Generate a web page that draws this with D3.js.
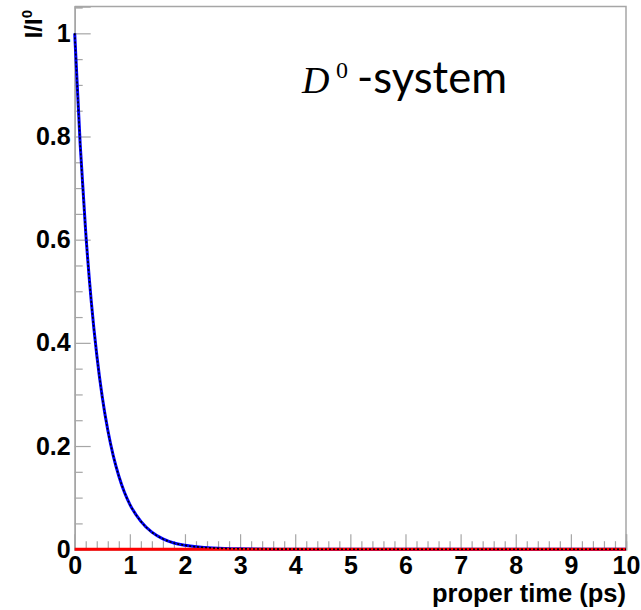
<!DOCTYPE html>
<html>
<head>
<meta charset="utf-8">
<script src="https://cdn.jsdelivr.net/npm/d3@7"></script>
<style>
  html, body { margin: 0; padding: 0; background: #fff; }
  svg { display: block; }
</style>
</head>
<body>
<svg id="chart" width="641" height="610"></svg>
<script>
// ---- data ----
const times     = [0, 0.1, 0.2, 0.3, 0.4, 0.5, 0.6, 0.7, 0.8, 0.9, 1.0, 1.2, 1.4, 1.6, 1.8, 2.0, 2.5, 3.0, 4.0, 6.0, 10.0];
const unmixed   = [1.0, 0.784, 0.614, 0.481, 0.377, 0.295, 0.231, 0.181, 0.142, 0.111, 0.087, 0.054, 0.033, 0.020, 0.012, 0.0076, 0.0023, 0.0007, 0.00006, 0, 0];
const total     = [1.0, 0.784, 0.614, 0.481, 0.377, 0.295, 0.231, 0.181, 0.142, 0.111, 0.087, 0.054, 0.033, 0.020, 0.012, 0.0076, 0.0023, 0.0007, 0.00006, 0, 0];
const mixed     = [0, 0, 0, 0, 0, 0, 0, 0, 0, 0, 0, 0, 0, 0, 0, 0, 0, 0, 0, 0, 0];
const xTicks    = [0, 1, 2, 3, 4, 5, 6, 7, 8, 9, 10];
const yTicks    = [0, 0.2, 0.4, 0.6, 0.8, 1];
const xTitle    = "proper time (ps)";
const title     = { main: "D", sup: "0", rest: "-system" };

// ---- layout ----
const svg = d3.select("#chart");
const L = 74.7, R = 626, T = 6.5, B = 549.2;
const x = d3.scaleLinear().domain([0, 10]).range([L, R]);
const y = d3.scaleLinear().domain([0, 1.052]).range([B, T]);
const grey = "#a6a6a6";
const fontFam = "'Liberation Sans', Arial, Helvetica, sans-serif";

// frame (top and right)
svg.append("path")
  .attr("d", `M${L},${T}H${R}V${B}`)
  .attr("fill", "none").attr("stroke", grey).attr("stroke-width", 1.5);

// minor ticks
const yMinor = d3.range(0, 1.051, 0.05).filter(v => Math.abs(v*5 - Math.round(v*5)) > 1e-6);
const xMinor = d3.range(0, 10.001, 0.2).filter(v => Math.abs(v - Math.round(v)) > 1e-6);

const yMinorAxis = svg.append("g").attr("transform", `translate(${L},0)`)
  .call(d3.axisLeft(y).tickValues(yMinor).tickSize(-8).tickFormat(""));
const xMinorAxis = svg.append("g").attr("transform", `translate(0,${B})`)
  .call(d3.axisBottom(x).tickValues(xMinor).tickSize(-8).tickFormat(""));

// major axes
const yAxis = svg.append("g").attr("transform", `translate(${L},0)`)
  .call(d3.axisLeft(y).tickValues(yTicks).tickSize(-16).tickPadding(4)
        .tickFormat(d => d3.format("~g")(d)));
const xAxis = svg.append("g").attr("transform", `translate(0,${B})`)
  .call(d3.axisBottom(x).tickValues(xTicks).tickSize(-15).tickPadding(7)
        .tickFormat(d => d3.format("d")(d)));

[yMinorAxis, xMinorAxis, yAxis, xAxis].forEach(g => {
  g.selectAll(".domain").attr("stroke", grey).attr("stroke-width", 1.5);
  g.selectAll(".tick line").attr("stroke", grey).attr("stroke-width", 1.2);
  g.selectAll("text").attr("font-family", fontFam).attr("font-weight", "bold")
    .attr("font-size", 25).attr("fill", "#000");
});

// curves
const pts = arr => times.map((t, i) => [t, arr[i]]);
const line = d3.line().x(d => x(d[0])).y(d => y(d[1])).curve(d3.curveMonotoneX);

svg.append("path").datum(pts(unmixed)).attr("d", line)
  .attr("fill", "none").attr("stroke", "#0000ff").attr("stroke-width", 3);
svg.append("path").datum(pts(mixed)).attr("d", line)
  .attr("fill", "none").attr("stroke", "#ff0000").attr("stroke-width", 3);
svg.append("path").datum(pts(total)).attr("d", line)
  .attr("fill", "none").attr("stroke", "#000").attr("stroke-width", 1.6)
  .attr("stroke-dasharray", "2,2");

// axis titles
svg.append("text")
  .attr("x", R).attr("y", 602)
  .attr("text-anchor", "end")
  .attr("font-family", fontFam).attr("font-weight", "bold").attr("font-size", 25.5)
  .text(xTitle);

const yt = svg.append("text")
  .attr("transform", "translate(42,10) rotate(-90)")
  .attr("text-anchor", "end")
  .attr("font-family", fontFam).attr("font-weight", "bold").attr("font-size", 24);
yt.append("tspan").text("I/I");
yt.append("tspan").attr("font-size", 15).attr("dy", -10).text("0");

// title
const serif = "'Liberation Serif', 'DejaVu Serif', serif";
svg.append("text").attr("x", 302).attr("y", 93)
  .attr("font-family", serif).attr("font-style", "italic").attr("font-size", 38)
  .text(title.main);
svg.append("text").attr("x", 336).attr("y", 78)
  .attr("font-family", serif).attr("font-size", 24)
  .text(title.sup);
svg.append("text").attr("x", 357).attr("y", 93)
  .attr("font-family", "Lato, 'Open Sans', sans-serif").attr("font-size", 44)
  .attr("textLength", 150).attr("lengthAdjust", "spacingAndGlyphs")
  .text(title.rest);
</script>
</body>
</html>
